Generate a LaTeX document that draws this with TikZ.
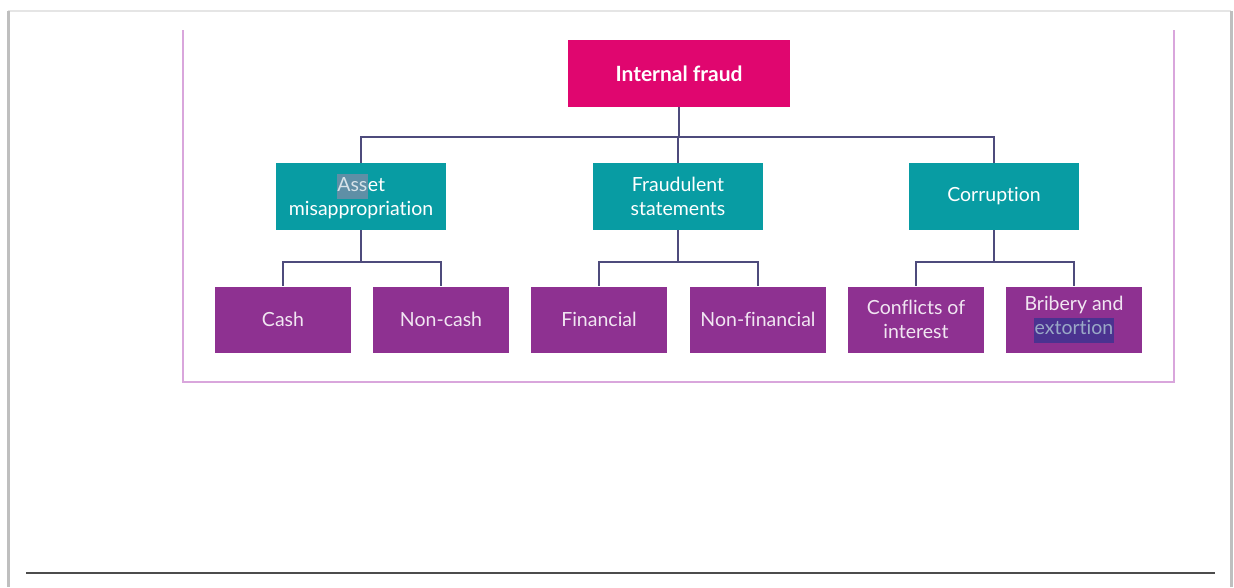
\documentclass[tikz,border=0pt]{standalone}
\usepackage{fontspec}
\setmainfont[Ligatures=NoCommon]{Lato}
\usepackage{xcolor}
\usetikzlibrary{positioning}
\definecolor{fraudpink}{HTML}{E0066F}
\definecolor{typeteal}{HTML}{089CA3}
\definecolor{leafpurple}{HTML}{8E3191}
\definecolor{linkslate}{HTML}{4E4B7C}
\definecolor{framelilac}{HTML}{D9A6DC}
\definecolor{selA}{HTML}{5F8FA6}
\definecolor{selB}{HTML}{4B3290}
\newcommand{\selmark}[2]{{\setlength{\fboxsep}{0.5pt}\colorbox{#1}{\strut #2}}}
\tikzstyle{rootbox} = [rectangle, minimum width=222pt, minimum height=67pt, text centered, fill=fraudpink, text=white, font=\fontsize{21}{24}\selectfont\bfseries]
\tikzstyle{typebox} = [rectangle, minimum width=170pt, minimum height=67pt, align=center, fill=typeteal, text=white, font=\fontsize{19.5}{24}\selectfont]
\tikzstyle{leafbox} = [rectangle, minimum width=136pt, minimum height=66pt, align=center, fill=leafpurple, text=white!88!leafpurple, font=\fontsize{19.5}{24}\selectfont]
\tikzstyle{link} = [linkslate, line width=1.6pt]

\begin{document}
\begin{tikzpicture}[x=1pt, y=1pt, node distance=123pt]
    \useasboundingbox (0,0) rectangle (1234,-587);
    % screenshot frame
    \draw [black!10, line width=1.5pt] (8,-11) -- (1231,-11);
    \draw [black!25, line width=3pt] (8,-11) -- (8,-587);
    \draw [black!25, line width=3pt] (1231,-11) -- (1231,-587);
    \draw [framelilac, line width=1.8pt] (183,-30) -- (183,-382) -- (1174,-382) -- (1174,-30);
    \draw [black!70, line width=2pt] (26,-573) -- (1215,-573);

    \node (root) [rootbox] at (679,-73.5) {Internal fraud};
    \node (fraud) [typebox, below of=root, xshift=-1pt] {Fraudulent\\statements};
    \node (asset) [typebox, left of=fraud, node distance=317pt] {\selmark{selA}{\textcolor{white!75!selA}{Ass}}et\\misappropriation};
    \node (corrupt) [typebox, right of=fraud, node distance=316pt] {Corruption};

    \node (cash) [leafbox, below of=asset, xshift=-78pt] {Cash};
    \node (noncash) [leafbox, below of=asset, xshift=80pt] {Non-cash};
    \node (fin) [leafbox, below of=fraud, xshift=-79pt] {Financial};
    \node (nonfin) [leafbox, below of=fraud, xshift=80pt] {Non-financial};
    \node (conflict) [leafbox, below of=corrupt, xshift=-78pt] {Conflicts of\\interest};
    \node (bribe) [leafbox, below of=corrupt, xshift=80pt] {Bribery and\\\selmark{selB}{\textcolor{white!70!cyan!60!selB}{extortion}}};

    \draw [link] (root.south) -- ++(0,-30) -| (fraud.north);
    \draw [link] (root.south) -- ++(0,-30) -| (asset.north);
    \draw [link] (root.south) -- ++(0,-30) -| (corrupt.north);
    \draw [link] (asset.south) -- ++(0,-32) -| (cash.north);
    \draw [link] (asset.south) -- ++(0,-32) -| (noncash.north);
    \draw [link] (fraud.south) -- ++(0,-32) -| (fin.north);
    \draw [link] (fraud.south) -- ++(0,-32) -| (nonfin.north);
    \draw [link] (corrupt.south) -- ++(0,-32) -| (conflict.north);
    \draw [link] (corrupt.south) -- ++(0,-32) -| (bribe.north);
\end{tikzpicture}
\end{document}
